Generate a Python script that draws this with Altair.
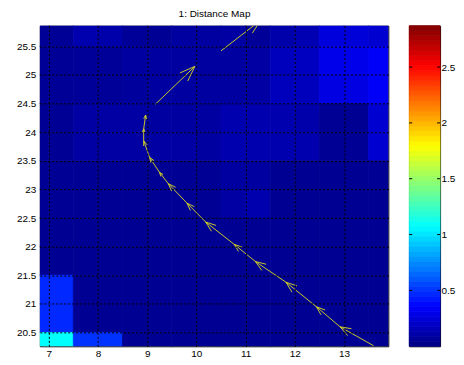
import altair as alt
import pandas as pd
import numpy as np

# ---------------- data ----------------
x_edges = [6.5, 7.0, 7.5, 8.0, 8.5, 9.0, 9.5, 10.0, 10.5, 11.0, 11.5, 12.0, 12.5, 13.0, 13.5, 14.0]
y_edges_top_down = [26.0, 25.5, 25.0, 24.5, 24.0, 23.5, 23.0, 22.5, 22.0, 21.5, 21.0, 20.5, 20.0]

# distance values, one row per y band (top to bottom), one column per x band
dist_rows = [
    [0.063, 0.063, 0.13, 0.12, 0.07, 0.06, 0.09, 0.09, 0.10, 0.07, 0.12, 0.14, 0.26, 0.25, 0.23],
    [0.063, 0.063, 0.07, 0.07, 0.09, 0.09, 0.09, 0.09, 0.09, 0.10, 0.17, 0.18, 0.30, 0.30, 0.34],
    [0.063, 0.063, 0.07, 0.07, 0.08, 0.09, 0.09, 0.09, 0.09, 0.10, 0.17, 0.17, 0.28, 0.28, 0.34],
    [0.06, 0.06, 0.10, 0.10, 0.10, 0.09, 0.09, 0.09, 0.13, 0.13, 0.13, 0.12, 0.06, 0.05, 0.23],
    [0.06, 0.06, 0.10, 0.10, 0.10, 0.10, 0.10, 0.09, 0.13, 0.13, 0.13, 0.13, 0.06, 0.06, 0.23],
    [0.06, 0.06, 0.06, 0.06, 0.06, 0.06, 0.06, 0.06, 0.09, 0.09, 0.05, 0.05, 0.05, 0.05, 0.06],
    [0.06, 0.06, 0.06, 0.06, 0.06, 0.06, 0.06, 0.06, 0.10, 0.13, 0.05, 0.05, 0.05, 0.05, 0.05],
    [0.05, 0.05, 0.05, 0.05, 0.05, 0.05, 0.05, 0.05, 0.05, 0.05, 0.05, 0.05, 0.05, 0.05, 0.05],
    [0.05, 0.05, 0.05, 0.05, 0.05, 0.05, 0.05, 0.05, 0.05, 0.05, 0.05, 0.05, 0.05, 0.05, 0.05],
    [0.47, 0.47, 0.05, 0.05, 0.05, 0.05, 0.05, 0.05, 0.05, 0.05, 0.05, 0.05, 0.05, 0.05, 0.05],
    [0.47, 0.47, 0.05, 0.05, 0.05, 0.05, 0.05, 0.05, 0.05, 0.05, 0.05, 0.05, 0.05, 0.05, 0.05],
    [1.08, 1.08, 0.50, 0.50, 0.05, 0.05, 0.05, 0.05, 0.05, 0.05, 0.05, 0.05, 0.05, 0.05, 0.05],
]

# trajectory (quiver) points, from start (bottom right) to end
traj_x = [13.60, 12.92, 12.44, 11.82, 11.20, 10.77, 10.19, 9.81, 9.43, 9.25, 9.05, 8.93, 8.93, 8.97]
traj_y = [20.27, 20.60, 20.95, 21.38, 21.74, 22.04, 22.43, 22.76, 23.10, 23.30, 23.56, 23.85, 24.06, 24.30]
# two separate long arrows (tail -> tip)
extra_tail_x = [9.17, 10.50]
extra_tail_y = [24.49, 25.42]
extra_tip_x = [9.97, 11.30]
extra_tip_y = [25.15, 25.95]

x_ticks = [7, 8, 9, 10, 11, 12, 13]
y_ticks = [20.5, 21, 21.5, 22, 22.5, 23, 23.5, 24, 24.5, 25, 25.5]
cbar_ticks = [0.5, 1, 1.5, 2, 2.5]
CMAX = 2.87
X_DOM = [6.82, 13.9]
Y_DOM = [20.26, 25.86]

# ---------------- tables ----------------
cells = []
for r, row in enumerate(dist_rows):
    for c, v in enumerate(row):
        cells.append(dict(x0=x_edges[c], x1=x_edges[c + 1],
                          y0=y_edges_top_down[r + 1], y1=y_edges_top_down[r], v=v))
cells_df = pd.DataFrame(cells)

W, H = 350, 322
sx = W / (X_DOM[1] - X_DOM[0])
sy = H / (Y_DOM[1] - Y_DOM[0])

tails = list(zip(traj_x[:-1], traj_y[:-1])) + list(zip(extra_tail_x, extra_tail_y))
tips = list(zip(traj_x[1:], traj_y[1:])) + list(zip(extra_tip_x, extra_tip_y))
lines = []
seg = 0
ang = np.deg2rad(20)
for (tx, ty), (hx, hy) in zip(tails, tips):
    dx, dy = (hx - tx) * sx, (hy - ty) * sy
    L = np.hypot(dx, dy)
    ux, uy = -dx / L, -dy / L
    hl = 0.3 * L
    barbs = []
    for a in (ang, -ang):
        bx = ux * np.cos(a) - uy * np.sin(a)
        by = ux * np.sin(a) + uy * np.cos(a)
        barbs.append((hx + hl * bx / sx, hy + hl * by / sy))
    for o, (px, py) in enumerate([(tx, ty), (hx, hy)]):
        lines.append(dict(seg=seg, o=o, x=px, y=py))
    seg += 1
    for o, (px, py) in enumerate([barbs[0], (hx, hy), barbs[1]]):
        lines.append(dict(seg=seg, o=o, x=px, y=py))
    seg += 1
lines_df = pd.DataFrame(lines)

n_bands = 64
b_edges = np.linspace(0, CMAX, n_bands + 1)
cbar_df = pd.DataFrame(dict(b0=b_edges[:-1], b1=b_edges[1:], v=(b_edges[:-1] + b_edges[1:]) / 2))
cticks_df = pd.DataFrame(dict(t=cbar_ticks))

jet = alt.Scale(domain=[0, 0.125 * CMAX, 0.375 * CMAX, 0.625 * CMAX, 0.875 * CMAX, CMAX],
                range=["#000080", "#0000ff", "#00ffff", "#ffff00", "#ff0000", "#800000"],
                interpolate="rgb", clamp=True)

FONT = "Liberation Sans"
xs = alt.Scale(domain=X_DOM, nice=False, zero=False)
ys = alt.Scale(domain=Y_DOM, nice=False, zero=False)
grid_axis = dict(grid=True, gridColor="black", gridDash=[2, 2], gridWidth=1, gridOpacity=1,
                 zindex=1, ticks=False, domain=False, title=None, labelOverlap=False, tickCount=40,
                 labelFont=FONT, labelFontSize=10, labelColor="black", labelExpr="'' + datum.value")

heat = alt.Chart(cells_df).mark_rect(clip=True, strokeWidth=0.8).encode(
    x=alt.X("x0:Q", scale=xs, axis=alt.Axis(values=x_ticks, labelPadding=2, **grid_axis)),
    x2="x1:Q",
    y=alt.Y("y0:Q", scale=ys, axis=alt.Axis(values=y_ticks, labelPadding=4, minExtent=26, maxExtent=26, **grid_axis)),
    y2="y1:Q",
    color=alt.Color("v:Q", scale=jet, legend=None),
    stroke=alt.Stroke("v:Q", scale=jet, legend=None),
)

arrows = alt.Chart(lines_df).mark_line(clip=True, color="#dcdc20", strokeWidth=0.9).encode(
    x=alt.X("x:Q", scale=xs),
    y=alt.Y("y:Q", scale=ys),
    detail="seg:N",
    order="o:Q",
)

main = alt.layer(heat, arrows).properties(width=W, height=H)

cb_rect = alt.Chart(cbar_df).mark_rect(strokeWidth=0.8).encode(
    x=alt.value(0), x2=alt.value(31),
    y=alt.Y("b0:Q", scale=alt.Scale(domain=[0, CMAX], nice=False, zero=False),
            axis=alt.Axis(orient="right", values=cbar_ticks, ticks=False, domain=False, grid=False,
                          title=None, labelPadding=1, labelFont=FONT, labelFontSize=10, tickCount=40,
                          labelOverlap=False, labelColor="black", labelExpr="'' + datum.value")),
    y2="b1:Q",
    color=alt.Color("v:Q", scale=jet, legend=None),
    stroke=alt.Stroke("v:Q", scale=jet, legend=None),
)
cb_tl = alt.Chart(cticks_df).mark_rule(color="black").encode(
    y=alt.Y("t:Q"), x=alt.value(0), x2=alt.value(3))
cb_tr = alt.Chart(cticks_df).mark_rule(color="black").encode(
    y=alt.Y("t:Q"), x=alt.value(28), x2=alt.value(31))
cbar = alt.layer(cb_rect, cb_tl, cb_tr).properties(width=31, height=H)

chart = alt.hconcat(main, cbar, spacing=19).properties(
    title=alt.TitleParams("1: Distance Map", font=FONT, fontSize=10, fontWeight="normal",
                          color="black", anchor="middle", dx=-20, dy=-3, offset=3),
    padding={"left": 5, "top": 0, "right": 0, "bottom": 0},
).configure_view(stroke="black", strokeWidth=1).resolve_scale(color="shared", stroke="shared")

chart.save("out.html", embed_options={"renderer": "svg", "actions": False})
